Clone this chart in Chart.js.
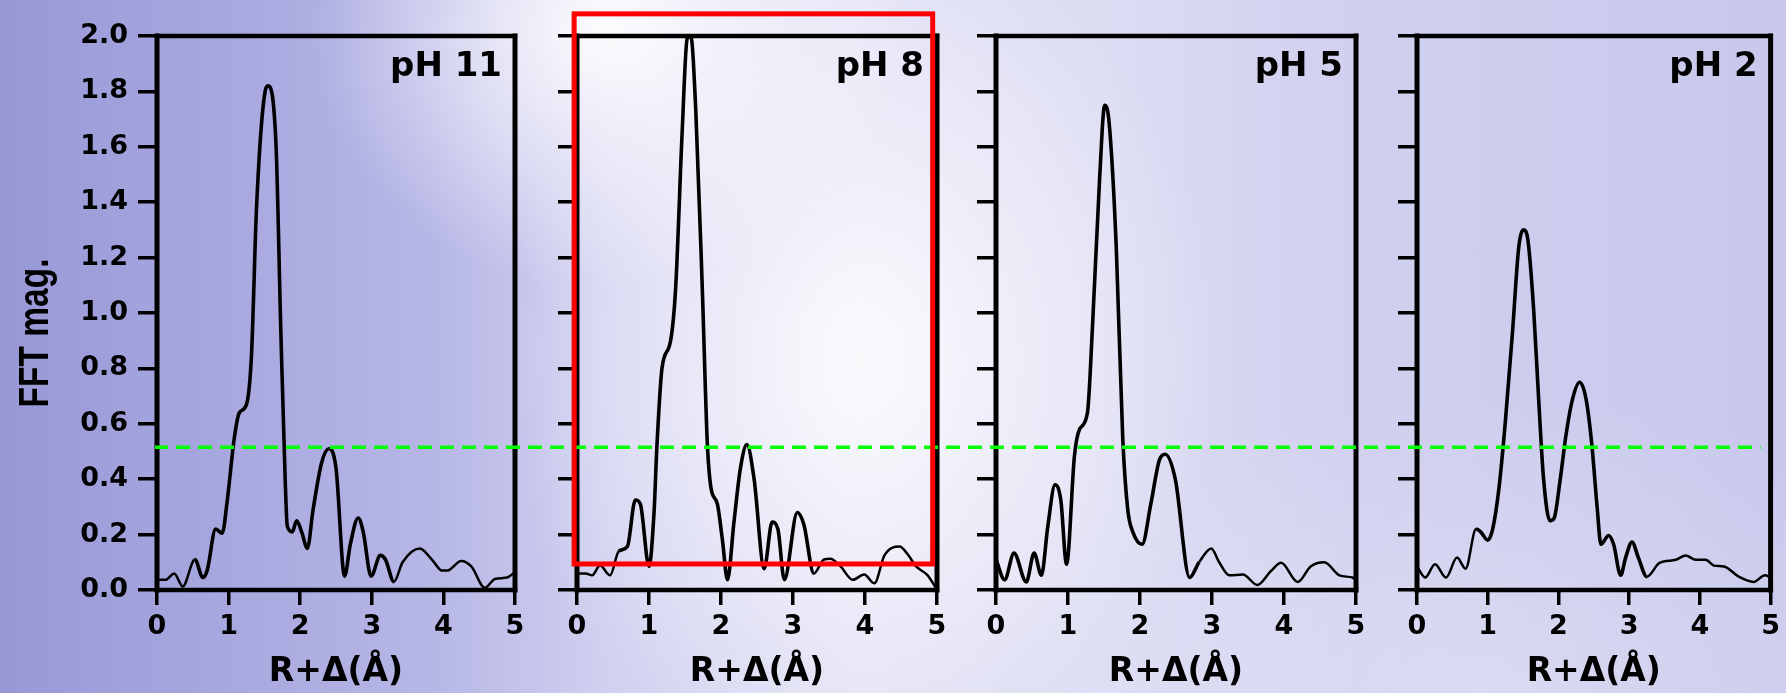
<!DOCTYPE html>
<html>
<head>
<meta charset="utf-8">
<script src="https://cdn.jsdelivr.net/npm/chart.js@4.4.1/dist/chart.umd.min.js"></script>
<style>
  html, body { margin: 0; padding: 0; }
  body {
    width: 1786px; height: 693px; overflow: hidden; position: relative;
    background:
      radial-gradient(ellipse 300px 260px at 610px 30px, rgba(255,255,255,0.95), rgba(255,255,255,0) 100%),
      radial-gradient(ellipse 360px 440px at 860px 360px, rgba(255,255,255,0.85), rgba(255,255,255,0) 100%),
      radial-gradient(ellipse 500px 300px at 1500px 693px, rgba(255,255,255,0.25), rgba(255,255,255,0) 100%),
      linear-gradient(to right, #9898d7 0%, #a7a7df 12%, #b6b6e6 24%, #d0d0f0 34%, #e0e0f5 48%, #dcdcf3 62%, #d0d0ef 76%, #c8c8ec 100%);
  }
  .panel { position: absolute; top: 0; }
</style>
</head>
<body>
<script>
// ── data ──────────────────────────────────────────────────
const PANEL_NAMES = ['pH 11', 'pH 8', 'pH 5', 'pH 2'];
const X_LABEL = 'R+Δ(Å)';
const Y_LABEL = 'FFT mag.';
const GUIDE_LEVEL = 0.515;          // green dashed line
const HIGHLIGHT = { xMin: -0.04, xMax: 4.94, yMin: 0.094, yMax: 2.08 }; // red box, pH 8 panel

const r_pH11 = [0, 0.12, 0.24, 0.36, 0.53, 0.64, 0.70, 0.82, 0.91, 0.98, 1.08, 1.15, 1.25, 1.32, 1.39, 1.51, 1.55, 1.66, 1.73, 1.79, 1.82, 1.89, 1.95, 2.02, 2.10, 2.18, 2.30, 2.40, 2.50, 2.62, 2.70, 2.81, 2.88, 2.99, 3.12, 3.19, 3.31, 3.43, 3.67, 3.84, 3.98, 4.05, 4.25, 4.39, 4.58, 4.72, 4.89, 5.0];
const mag_pH11 = [0.037, 0.037, 0.06, 0.013, 0.11, 0.045, 0.07, 0.22, 0.205, 0.32, 0.55, 0.64, 0.67, 0.85, 1.38, 1.80, 1.82, 1.62, 0.93, 0.40, 0.23, 0.21, 0.25, 0.21, 0.15, 0.29, 0.46, 0.51, 0.44, 0.05, 0.165, 0.26, 0.21, 0.05, 0.125, 0.11, 0.03, 0.10, 0.15, 0.11, 0.07, 0.07, 0.105, 0.085, 0.008, 0.04, 0.045, 0.065];

const r_pH8 = [0, 0.12, 0.21, 0.32, 0.46, 0.58, 0.70, 0.81, 0.88, 1.0, 1.07, 1.11, 1.18, 1.30, 1.37, 1.46, 1.53, 1.58, 1.65, 1.74, 1.81, 1.86, 1.95, 2.02, 2.09, 2.18, 2.27, 2.36, 2.46, 2.60, 2.71, 2.79, 2.88, 3.06, 3.15, 3.29, 3.43, 3.52, 3.66, 3.83, 3.99, 4.13, 4.27, 4.48, 4.59, 4.71, 4.87, 4.99];
const mag_pH8 = [0.06, 0.06, 0.053, 0.088, 0.053, 0.14, 0.157, 0.325, 0.31, 0.085, 0.28, 0.52, 0.80, 0.90, 1.09, 1.65, 1.99, 2.0, 1.73, 1.09, 0.53, 0.37, 0.31, 0.18, 0.037, 0.245, 0.44, 0.525, 0.40, 0.077, 0.245, 0.22, 0.037, 0.28, 0.237, 0.06, 0.11, 0.113, 0.085, 0.037, 0.056, 0.024, 0.125, 0.157, 0.13, 0.085, 0.053, 0.005];

const r_pH5 = [0, 0.12, 0.25, 0.42, 0.53, 0.63, 0.72, 0.82, 0.90, 0.98, 1.09, 1.16, 1.27, 1.34, 1.44, 1.51, 1.57, 1.67, 1.76, 1.83, 1.90, 2.03, 2.15, 2.27, 2.35, 2.49, 2.69, 2.82, 2.99, 3.10, 3.24, 3.43, 3.63, 3.82, 3.96, 4.19, 4.37, 4.56, 4.77, 4.95, 5.0];
const mag_pH5 = [0.11, 0.037, 0.133, 0.029, 0.133, 0.053, 0.23, 0.38, 0.325, 0.093, 0.485, 0.58, 0.64, 0.95, 1.49, 1.75, 1.69, 1.24, 0.55, 0.29, 0.21, 0.165, 0.31, 0.47, 0.49, 0.40, 0.045, 0.10, 0.15, 0.10, 0.053, 0.056, 0.018, 0.069, 0.098, 0.029, 0.085, 0.10, 0.053, 0.045, 0.037];

const r_pH2 = [0, 0.116, 0.255, 0.41, 0.566, 0.687, 0.835, 0.90, 1.0, 1.07, 1.16, 1.25, 1.35, 1.44, 1.51, 1.57, 1.65, 1.72, 1.79, 1.88, 1.94, 2.02, 2.11, 2.20, 2.30, 2.39, 2.47, 2.55, 2.60, 2.71, 2.78, 2.88, 2.95, 3.04, 3.13, 3.25, 3.43, 3.66, 3.80, 3.94, 4.08, 4.20, 4.34, 4.55, 4.76, 4.92, 5.0];
const mag_pH2 = [0.085, 0.045, 0.093, 0.045, 0.117, 0.077, 0.22, 0.21, 0.18, 0.22, 0.37, 0.61, 0.93, 1.24, 1.30, 1.26, 1.01, 0.69, 0.40, 0.25, 0.26, 0.39, 0.565, 0.69, 0.75, 0.69, 0.53, 0.29, 0.165, 0.197, 0.165, 0.053, 0.117, 0.173, 0.117, 0.048, 0.098, 0.109, 0.125, 0.109, 0.109, 0.088, 0.085, 0.048, 0.029, 0.053, 0.045];

const R_SERIES = [r_pH11, r_pH8, r_pH5, r_pH2];
const MAG_SERIES = [mag_pH11, mag_pH8, mag_pH5, mag_pH2];

// ── layout (pixels) ───────────────────────────────────────
const H = 693, PLOT_TOP = 36, PLOT_BOTTOM = 590;
const canvasLeft  = [0, 540, 960, 1380];
const canvasWidth = [540, 420, 420, 406];
const plotLeft    = [157, 577, 996, 1417];
const plotRight   = [515, 937, 1356, 1777];
const thickRange  = [[0.4, 3.35], [0.55, 3.3], [0, 2.9], [0.7, 3.3]]; // heavier pen in the middle

const BOLD = 'DejaVu Sans';

// frame, pH label, y title, green guide, red box
const panelDecor = {
  id: 'panelDecor',
  afterDatasetsDraw(chart, args, o) {
    const { ctx, chartArea: a, scales: { x, y } } = chart;
    ctx.save();
    ctx.strokeStyle = '#000';
    ctx.lineCap = 'square';
    ctx.lineWidth = 4.5;
    ctx.beginPath();
    ctx.moveTo(a.left, a.top); ctx.lineTo(a.right, a.top);
    ctx.moveTo(a.left, a.bottom); ctx.lineTo(a.right, a.bottom);
    ctx.stroke();
    ctx.lineWidth = 5;
    ctx.beginPath();
    ctx.moveTo(a.left, a.top); ctx.lineTo(a.left, a.bottom);
    ctx.moveTo(a.right, a.top); ctx.lineTo(a.right, a.bottom);
    ctx.stroke();

    ctx.fillStyle = '#000';
    ctx.font = `bold 34px "${BOLD}"`;
    ctx.textAlign = 'right';
    ctx.textBaseline = 'alphabetic';
    ctx.fillText(o.label, a.right - 13, a.top + 40);

    if (o.yTitle) {
      // the original lettering is stretched sideways
      ctx.save();
      ctx.translate(48, (a.top + a.bottom) / 2 + 20);
      ctx.scale(1.25, 1);
      ctx.rotate(-Math.PI / 2);
      ctx.font = 'bold 33.5px "Liberation Sans"';
      ctx.textAlign = 'center';
      ctx.fillText(o.yTitle, 0, 0);
      ctx.restore();
    }

    const gy = y.getPixelForValue(GUIDE_LEVEL);
    const x0 = o.first ? a.left - 2 : 0;
    const x1 = o.last ? a.right - 10 : chart.width;
    ctx.strokeStyle = '#00ff00';
    ctx.lineCap = 'butt';
    ctx.lineWidth = 3.5;
    ctx.setLineDash([14, 8]);
    ctx.lineDashOffset = o.offset + x0;
    ctx.beginPath(); ctx.moveTo(x0, gy); ctx.lineTo(x1, gy); ctx.stroke();
    ctx.setLineDash([]);

    if (o.box) {
      const bx0 = x.getPixelForValue(o.box.xMin), bx1 = x.getPixelForValue(o.box.xMax);
      const by0 = y.getPixelForValue(o.box.yMax), by1 = y.getPixelForValue(o.box.yMin);
      ctx.strokeStyle = '#ff0000';
      ctx.lineWidth = 5;
      ctx.strokeRect(bx0, by0, bx1 - bx0, by1 - by0);
    }
    ctx.restore();
  }
};

PANEL_NAMES.forEach((name, i) => {
  const cv = document.createElement('canvas');
  cv.width = canvasWidth[i]; cv.height = H;
  cv.className = 'panel';
  cv.style.left = canvasLeft[i] + 'px';
  document.body.appendChild(cv);

  const [t0, t1] = thickRange[i];
  const pts = R_SERIES[i].map((r, k) => ({ x: r, y: MAG_SERIES[i][k] }));

  new Chart(cv, {
    type: 'line',
    data: {
      datasets: [{
        data: pts,
        borderColor: '#000',
        borderWidth: 3.5,
        pointRadius: 0,
        fill: false,
        cubicInterpolationMode: 'monotone',
        segment: {
          borderWidth: c => (c.p0.parsed.x >= t0 && c.p1.parsed.x <= t1) ? 3.6 : 2.5
        }
      }]
    },
    options: {
      responsive: false, animation: false, devicePixelRatio: 1,
      layout: { padding: { top: PLOT_TOP, left: 0, bottom: 0, right: canvasWidth[i] - (plotRight[i] - canvasLeft[i]) } },
      plugins: {
        legend: { display: false }, tooltip: { enabled: false },
        panelDecor: {
          label: name, first: i === 0, last: i === 3, offset: canvasLeft[i],
          box: i === 1 ? HIGHLIGHT : null, yTitle: i === 0 ? Y_LABEL : null
        }
      },
      scales: {
        x: {
          type: 'linear', min: 0, max: 5,
          border: { display: false },
          grid: { drawOnChartArea: false, tickLength: 15, lineWidth: 3.5, color: '#000' },
          ticks: { stepSize: 1, padding: 6, color: '#000', font: { family: BOLD, weight: 'bold', size: 27 } },
          title: { display: true, text: X_LABEL, color: '#000', font: { family: BOLD, weight: 'bold', size: 33 }, padding: { top: 0, bottom: 1 } },
          afterFit: s => { s.height = H - PLOT_BOTTOM; }
        },
        y: {
          type: 'linear', min: 0, max: 2,
          border: { display: false },
          grid: { drawOnChartArea: false, tickLength: 19, lineWidth: 3.5, color: '#000' },
          ticks: { display: i === 0, stepSize: 0.2, padding: 10, color: '#000', callback: v => v.toFixed(1), font: { family: BOLD, weight: 'bold', size: 27 } },
          afterFit: s => { s.width = plotLeft[i] - canvasLeft[i]; }
        }
      }
    },
    plugins: [panelDecor]
  });
});
</script>
</body>
</html>
